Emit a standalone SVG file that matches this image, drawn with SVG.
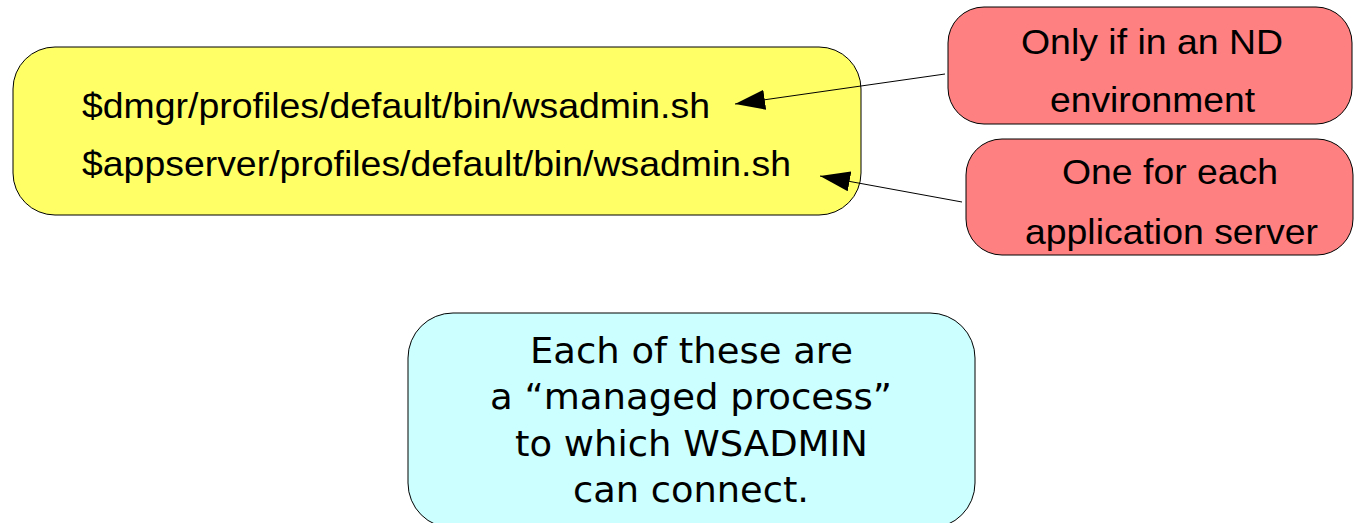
<svg xmlns="http://www.w3.org/2000/svg" width="1354" height="523" viewBox="0 0 1354 523">
<defs>
<style>
.box{stroke:#000;stroke-width:1}
.t{font-family:"Liberation Sans",Arial,sans-serif;font-size:35px;fill:#000}
.d{font-family:"DejaVu Sans",sans-serif;font-size:36px;fill:#000}
.c{stroke:#000;stroke-width:1;fill:none}
</style>
<marker id="ah" viewBox="0 0 30 20" refX="30" refY="10" markerWidth="30" markerHeight="20" markerUnits="userSpaceOnUse" orient="auto">
<path d="M0,0 L30,10 L0,20 Z" fill="#000"/>
</marker>
</defs>
<rect width="1354" height="523" fill="#fff"/>
<g id="node-yellow">
<rect class="box" x="13" y="47" width="848" height="168" rx="42" ry="42" fill="#ffff66"/>
<text class="t" x="82" y="118" textLength="628" lengthAdjust="spacingAndGlyphs">$dmgr/profiles/default/bin/wsadmin.sh</text>
<text class="t" x="82" y="176" textLength="709" lengthAdjust="spacingAndGlyphs">$appserver/profiles/default/bin/wsadmin.sh</text>
</g>
<g id="node-nd">
<rect class="box" x="948" y="7" width="404" height="117" rx="36" ry="36" fill="#ff8080"/>
<text class="t" x="1021" y="54" textLength="262" lengthAdjust="spacingAndGlyphs">Only if in an ND</text>
<text class="t" x="1050" y="112" textLength="205" lengthAdjust="spacingAndGlyphs">environment</text>
</g>
<g id="node-app">
<rect class="box" x="966" y="139" width="387" height="116" rx="36" ry="36" fill="#ff8080"/>
<text class="t" x="1062" y="184" textLength="216" lengthAdjust="spacingAndGlyphs">One for each</text>
<text class="t" x="1025" y="244" textLength="293" lengthAdjust="spacingAndGlyphs">application server</text>
</g>
<g id="node-cyan">
<rect class="box" x="408" y="313" width="567" height="215" rx="45" ry="45" fill="#ccffff"/>
<text class="d" x="530" y="363" textLength="323" lengthAdjust="spacingAndGlyphs">Each of these are</text>
<text class="d" x="490" y="409" textLength="402" lengthAdjust="spacingAndGlyphs">a “managed process”</text>
<text class="d" x="515" y="456" textLength="353" lengthAdjust="spacingAndGlyphs">to which WSADMIN</text>
<text class="d" x="573" y="502" textLength="236" lengthAdjust="spacingAndGlyphs">can connect.</text>
</g>
<g id="connectors">
<line class="c" x1="945" y1="74" x2="735" y2="104" marker-end="url(#ah)"/>
<line class="c" x1="962" y1="202" x2="820" y2="176" marker-end="url(#ah)"/>
</g>
</svg>
